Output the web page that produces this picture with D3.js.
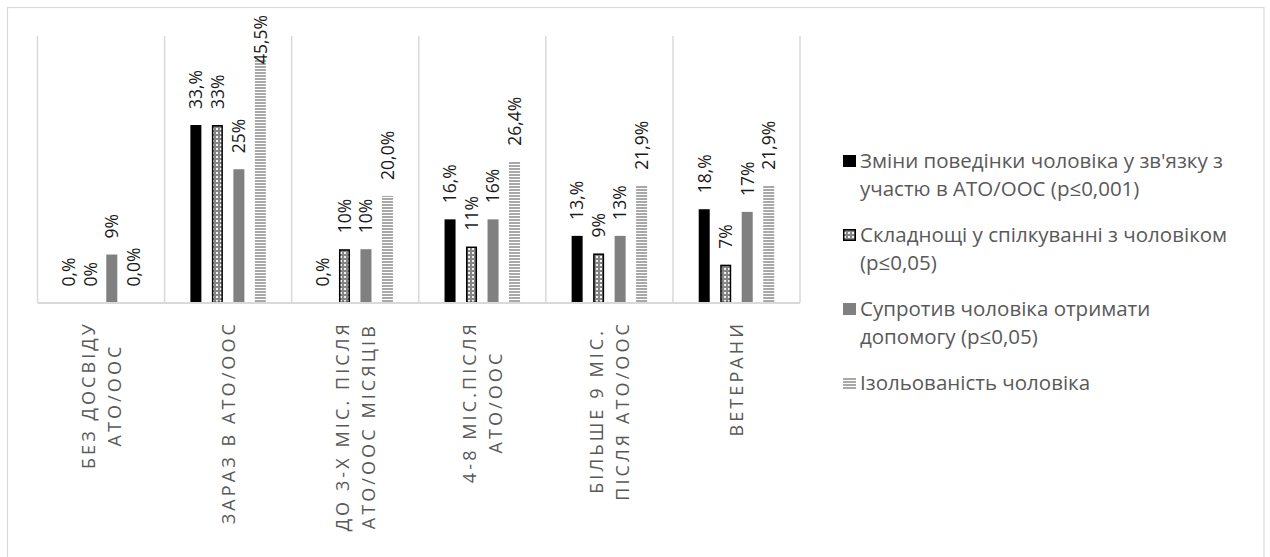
<!DOCTYPE html>
<html>
<head>
<meta charset="utf-8">
<script src="https://cdn.jsdelivr.net/npm/d3@7"></script>
<style>
  html, body { margin: 0; padding: 0; background: #fff; }
  svg { display: block; }
  text { font-family: "Open Sans", "Noto Sans", sans-serif; }
</style>
</head>
<body>
<svg id="chart" width="1270" height="557"></svg>
<script>
// ---------- data ----------
const categoryLines = [
  ["БЕЗ ДОСВІДУ", "АТО/ООС"],
  ["ЗАРАЗ В АТО/ООС"],
  ["ДО 3-Х МІС. ПІСЛЯ", "АТО/ООС МІСЯЦІВ"],
  ["4-8 МІС.ПІСЛЯ", "АТО/ООС"],
  ["БІЛЬШЕ 9 МІС.", "ПІСЛЯ АТО/ООС"],
  ["ВЕТЕРАНИ"]
];
const categories = categoryLines.map(l => l.join(" "));

const seriesNames = [
  "Зміни поведінки чоловіка у зв'язку з участю в АТО/ООС (p≤0,001)",
  "Складнощі у спілкуванні з чоловіком (p≤0,05)",
  "Супротив чоловіка отримати допомогу (p≤0,05)",
  "Ізольованість чоловіка"
];
const legendLines = [
  ["Зміни поведінки чоловіка у зв'язку з", "участю в АТО/ООС (p≤0,001)"],
  ["Складнощі у спілкуванні з чоловіком", "(p≤0,05)"],
  ["Супротив чоловіка отримати", "допомогу (p≤0,05)"],
  ["Ізольованість чоловіка"]
];

const behaviourValues     = [0, 33.3, 0, 15.6, 12.5, 17.5];
const communicationValues = [0, 33.3, 10, 10.5, 9.2, 7.1];
const resistanceValues    = [9, 25, 10, 15.6, 12.5, 17];
const isolationValues     = [0, 45.5, 20, 26.4, 21.9, 21.9];

const behaviourLabels     = ["0,%", "33,%", "0,%", "16,%", "13,%", "18,%"];
const communicationLabels = ["0%", "33%", "10%", "11%", "9%", "7%"];
const resistanceLabels    = ["9%", "25%", "10%", "16%", "13%", "17%"];
const isolationLabels     = ["0,0%", "45,5%", "20,0%", "26,4%", "21,9%", "21,9%"];

const seriesValues = [behaviourValues, communicationValues, resistanceValues, isolationValues];
const seriesLabels = [behaviourLabels, communicationLabels, resistanceLabels, isolationLabels];

// ---------- setup ----------
const svg = d3.select("#chart");
const defs = svg.append("defs");

// checker pattern
const pChk = defs.append("pattern").attr("id", "pChecker")
  .attr("patternUnits", "userSpaceOnUse").attr("width", 4).attr("height", 4);
pChk.append("rect").attr("width", 4).attr("height", 4).attr("fill", "#858585");
pChk.append("rect").attr("x", 0).attr("y", 0).attr("width", 2).attr("height", 2).attr("fill", "#f2f2f2");

// horizontal line pattern
const pH = defs.append("pattern").attr("id", "pHoriz")
  .attr("patternUnits", "userSpaceOnUse").attr("width", 4).attr("height", 3);
pH.append("rect").attr("width", 4).attr("height", 3).attr("fill", "#ffffff");
pH.append("rect").attr("y", 0).attr("width", 4).attr("height", 2).attr("fill", "#a8a8a8");

const seriesStyle = [
  { fill: "#000000", stroke: "none", sw: 0 },
  { fill: "url(#pChecker)", stroke: "#000000", sw: 1.5 },
  { fill: "#808080", stroke: "none", sw: 0 },
  { fill: "url(#pHoriz)", stroke: "none", sw: 0 }
];

// chart border
svg.append("rect").attr("x", 7.5).attr("y", 7.5).attr("width", 1256.5).attr("height", 560)
  .attr("fill", "#ffffff").attr("stroke", "#d9d9d9").attr("stroke-width", 1.2);

const plot = { left: 37.5, right: 800, top: 36, bottom: 302.5 };

const x0 = d3.scaleBand().domain(categories).range([plot.left, plot.right]).paddingInner(0).paddingOuter(0);
const x1 = d3.scaleBand().domain(d3.range(4)).range([0, x0.bandwidth()])
  .paddingInner(0.488).paddingOuter(1.2);
const y = d3.scaleLinear().domain([0, 50]).range([plot.bottom, plot.top]);

// vertical category separators
const sepPositions = categories.map(c => x0(c)).concat([x0(categories[categories.length - 1]) + x0.bandwidth()]);
svg.append("g").selectAll("line").data(sepPositions).join("line")
  .attr("x1", d => d).attr("x2", d => d)
  .attr("y1", plot.top).attr("y2", plot.bottom)
  .attr("stroke", "#d9d9d9").attr("stroke-width", 1.5);

// bars
const barsG = svg.append("g");
seriesValues.forEach((vals, si) => {
  const st = seriesStyle[si];
  barsG.append("g").selectAll("rect").data(vals).join("rect")
    .attr("x", (d, i) => x0(categories[i]) + x1(si) + st.sw / 2)
    .attr("width", x1.bandwidth() - st.sw)
    .attr("y", d => y(d) + st.sw / 2)
    .attr("height", d => Math.max(0, plot.bottom - y(d) - st.sw / 2))
    .attr("fill", st.fill)
    .attr("stroke", d => d > 0 ? st.stroke : "none")
    .attr("stroke-width", st.sw);
});

// baseline
svg.append("line").attr("x1", plot.left).attr("x2", plot.right)
  .attr("y1", plot.bottom + 0.5).attr("y2", plot.bottom + 0.5)
  .attr("stroke", "#d9d9d9").attr("stroke-width", 1.8);

// data labels
const labelsG = svg.append("g");
seriesValues.forEach((vals, si) => {
  vals.forEach((v, i) => {
    const cx = x0(categories[i]) + x1(si) + x1.bandwidth() / 2;
    const t = labelsG.append("text")
      .attr("font-size", 17.5).attr("fill", "#1a1a1a")
      .attr("text-anchor", "start")
      .text(seriesLabels[si][i]);
    const len = t.node().getComputedTextLength();
    let startY = y(v) - 16;
    if (startY - len < 15) startY = 15 + len;
    t.attr("transform", `translate(${cx},${startY}) rotate(-90)`)
      .attr("dy", "0.36em");
  });
});

// category labels
const catG = svg.append("g");
categoryLines.forEach((lines, i) => {
  const cx = x0(categories[i]) + x0.bandwidth() / 2;
  const texts = lines.map(l => catG.append("text")
    .attr("font-size", 18).attr("fill", "#595959")
    .attr("letter-spacing", "3.1px")
    .attr("text-anchor", "middle")
    .text(l));
  const maxLen = d3.max(texts, t => t.node().getComputedTextLength());
  const cy = 321 + maxLen / 2;
  const n = lines.length;
  texts.forEach((t, k) => {
    const lx = cx + (k - (n - 1) / 2) * 26;
    t.attr("transform", `translate(${lx},${cy}) rotate(-90)`).attr("dy", "0.36em");
  });
});

// legend
const legendG = svg.append("g");
const legendX = 843, textX = 860, lineH = 28, itemGap = 18;
let ly = 161;
legendLines.forEach((lines, si) => {
  const st = seriesStyle[si];
  legendG.append("rect")
    .attr("x", legendX + st.sw / 2).attr("y", ly - 6 + st.sw / 2)
    .attr("width", 13 - st.sw).attr("height", 12 - st.sw)
    .attr("fill", st.fill).attr("stroke", st.stroke).attr("stroke-width", st.sw);
  lines.forEach((l, k) => {
    legendG.append("text")
      .attr("x", textX).attr("y", ly + k * lineH)
      .attr("dy", "0.36em")
      .attr("font-size", 20.5).attr("fill", "#595959")
      .text(l);
  });
  ly += lines.length * lineH + itemGap;
});
</script>
</body>
</html>
